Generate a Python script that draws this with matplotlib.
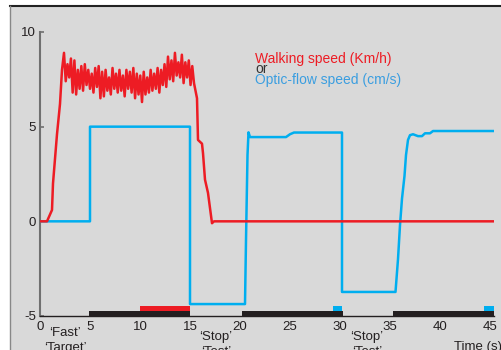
import numpy as np
import matplotlib.pyplot as plt
from matplotlib.patches import Rectangle
from matplotlib.lines import Line2D

plt.rcParams['font.family'] = ['Liberation Sans', 'DejaVu Sans']
plt.rcParams['axes.unicode_minus'] = False

RED = '#ed1c24'
BLUE = '#00aeef'

# walking speed (km/h): rise, oscillating plateau (peak/trough pairs), fall
rise_t = [0, 0.7, 1.2, 1.3, 1.7, 2.0, 2.2]
rise_v = [0, 0, 0.6, 2.0, 4.6, 6.2, 8.0]
plateau_v = [
    8.9, 7.4, 8.3, 7.6, 8.6, 6.8, 8.5, 6.7,
    8.0, 7.0, 8.2, 6.9, 8.3, 7.2, 8.0, 7.0, 7.8, 6.8, 8.1, 7.1,
    8.2, 6.5, 7.9, 6.6, 8.0, 6.9, 7.6, 6.7, 8.1, 7.0, 7.8, 6.8,
    8.0, 6.9, 7.7, 6.6, 8.0, 7.0, 7.9, 6.8, 8.1, 6.5, 7.8, 6.7,
    7.7, 6.3, 7.9, 6.7, 7.6, 6.8, 8.0, 6.9, 7.8, 7.0, 8.1, 6.8,
    8.0, 7.2, 8.3, 7.1, 8.7, 7.5, 8.5, 7.4, 8.9, 7.7, 8.4, 7.6,
    8.8, 7.3, 8.4, 7.6, 8.5, 7.2, 8.2, 7.3,
]
plateau_t = np.linspace(2.4, 15.4, len(plateau_v))
fall_t = [15.7, 15.8, 16.2, 16.3, 16.5, 16.8, 17.2, 17.4, 45.4]
fall_v = [6.5, 4.3, 4.1, 3.6, 2.2, 1.5, -0.1, 0, 0]

# optic-flow speed (cm/s)
flow_t = [0, 5, 5, 15, 15, 20.5, 20.6, 20.75, 20.85, 21.0, 24.6, 25.0, 25.4,
          30.2, 30.2, 35.55, 35.8, 36.0, 36.2, 36.45, 36.6, 36.8, 37.0, 37.3,
          37.8, 38.2, 38.5, 39.0, 39.3, 45.4]
flow_v = [0, 0, 5, 5, -4.37, -4.37, -1.0, 3.5, 4.7, 4.45, 4.45, 4.6, 4.69,
          4.69, -3.73, -3.73, -2.0, -0.2, 1.2, 2.4, 3.5, 4.3, 4.55, 4.6,
          4.5, 4.5, 4.65, 4.65, 4.77, 4.77]

black_bars = [(4.93, 10.07), (20.2, 10.1), (35.3, 10.1)]
red_bars = [(10.0, 5.0)]
blue_bars = [(29.3, 0.9), (44.4, 1.0)]

fig = plt.figure(figsize=(5.01, 3.5), dpi=100)
fig.patch.set_facecolor('white')
W, H = 501, 350
fig.patches.append(Rectangle((10 / W, 0), 1, (H - 6) / H, transform=fig.transFigure,
                             facecolor='#d9d9d9', edgecolor='none', zorder=-2))
fig.lines.append(Line2D([10 / W, 1], [(H - 6) / H] * 2, transform=fig.transFigure,
                        color='#222222', lw=1.5, zorder=-1))
fig.lines.append(Line2D([10 / W] * 2, [0, (H - 6) / H], transform=fig.transFigure,
                        color='#888888', lw=1, zorder=-1))

ax = fig.add_axes([40 / W, (H - 316) / H, 454 / W, 284 / H])
ax.set_facecolor('none')
ax.set_xlim(0, 45.4)
ax.set_ylim(-5, 10)

walk_t = list(rise_t) + list(plateau_t) + fall_t
walk_v = rise_v + plateau_v + fall_v
ax.plot(flow_t, flow_v, color=BLUE, lw=1.8, zorder=3)
ax.plot(walk_t, walk_v, color=RED, lw=1.8, zorder=4)

ax.broken_barh(black_bars, (-5, 0.25), facecolor='#231f20', zorder=2)
ax.broken_barh(red_bars, (-4.75, 0.27), facecolor=RED, zorder=2)
ax.broken_barh(blue_bars, (-4.75, 0.27), facecolor=BLUE, zorder=2)

for s in ['top', 'right']:
    ax.spines[s].set_visible(False)
ax.spines['left'].set_color('#707070')
ax.spines['left'].set_linewidth(1.5)
ax.spines['bottom'].set_color('#231f20')
ax.spines['bottom'].set_linewidth(1)

ax.set_yticks([-5, 0, 5, 10])
ax.set_xticks(range(0, 46, 5))
ax.tick_params(axis='y', direction='in', length=3, width=1.2, color='#707070',
               labelsize=9.5, pad=3, labelcolor='#231f20')
ax.tick_params(axis='x', length=0, labelsize=9.5, pad=3.8, labelcolor='#231f20')

ax.text(21.5, 8.6, 'Walking speed (Km/h)', color=RED, fontsize=10, va='center')
ax.text(21.5, 8.05, 'or', color='#333333', fontsize=10, va='center')
ax.text(21.5, 7.45, 'Optic-flow speed (cm/s)', color='#3b9ee0', fontsize=10, va='center')

bottom = [(2.5, '\u2018Fast\u2019', '\u2018Target\u2019', -5.92),
          (17.6, '\u2018Stop\u2019', '\u2018Test\u2019', -6.13),
          (32.7, '\u2018Stop\u2019', '\u2018Test\u2019', -6.13)]
for x, a, b, y in bottom:
    ax.text(x, y, a, ha='center', va='center', fontsize=9.5, color='#231f20', clip_on=False)
    ax.text(x, y - 0.76, b, ha='center', va='center', fontsize=9.5, color='#231f20', clip_on=False)
ax.text(43.8, -6.66, 'Time (s)', ha='center', va='center', fontsize=9.5, color='#231f20',
        clip_on=False)

fig.savefig('out.png', dpi=100)
